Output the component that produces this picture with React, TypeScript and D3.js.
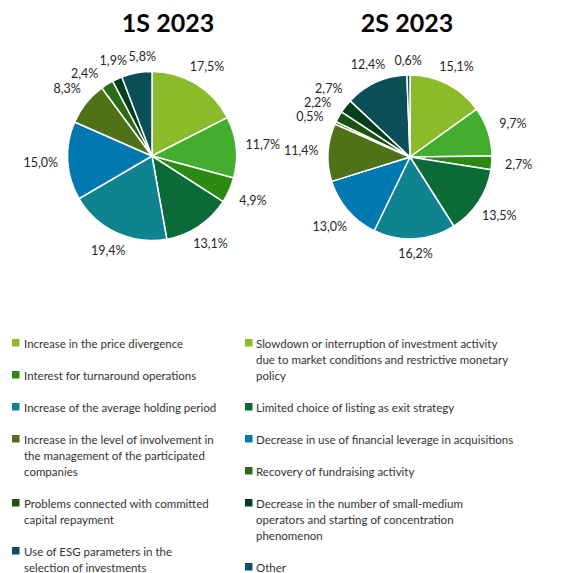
import React from 'react';
import * as d3 from 'd3';

const categories: string[] = [
  'Increase in the price divergence',
  'Slowdown or interruption of investment activity\ndue to market conditions and restrictive monetary\npolicy',
  'Interest for turnaround operations',
  'Limited choice of listing as exit strategy',
  'Increase of the average holding period',
  'Decrease in use of financial leverage in acquisitions',
  'Increase in the level of involvement in\nthe management of the participated\ncompanies',
  'Recovery of fundraising activity',
  'Problems connected with committed\ncapital repayment',
  'Decrease in the number of small-medium\noperators and starting of concentration\nphenomenon',
  'Use of ESG parameters in the\nselection of investments',
  'Other',
];
const values1S: number[] = [17.5, 11.7, 4.9, 13.1, 19.4, 15.0, 8.3, 2.4, 0, 1.9, 5.8, 0];
const values2S: number[] = [15.1, 9.7, 2.7, 13.5, 16.2, 13.0, 11.4, 0.5, 2.2, 2.7, 12.4, 0.6];
const titles: string[] = ['1S 2023', '2S 2023'];

const sliceColors = [
  '#8bbb2b', '#43ae2e', '#2a8a12', '#0b6b38', '#0f8490', '#0079b0',
  '#4f7118', '#2c6a1a', '#1c5210', '#003e1c', '#0a4e58', '#0b4f72',
];
const legendColors = [
  '#8bbb2b', '#8bbb2b', '#2a8a12', '#0b6b38', '#0f8490', '#0079b0',
  '#4f7118', '#2f6a1a', '#1c5210', '#003e1c', '#0a4e58', '#0b4f72',
];

const FONT = 'Lato, "Open Sans", sans-serif';

type Slice = { i: number; v: number };

const fmt = (v: number) => v.toFixed(1).replace('.', ',') + '%';
const estW = (s: string) => {
  let w = 0;
  for (const ch of s) w += ch === ',' ? 3 : ch === '%' ? 10 : 7.2;
  return w;
};

function Pie({ values, cx, cy, r, title, titleX }: { values: number[]; cx: number; cy: number; r: number; title: string; titleX: number }) {
  const data: Slice[] = values.map((v, i) => ({ i, v })).filter((d) => d.v > 0);
  const arcs = d3.pie<Slice>().sort(null).value((d) => d.v)(data);
  const arcGen = d3.arc<d3.PieArcDatum<Slice>>().innerRadius(0).outerRadius(r);

  const labels = arcs.map((a) => ({
    text: fmt(a.data.v),
    ang: (a.startAngle + a.endAngle) / 2,
    w: estW(fmt(a.data.v)),
    i: a.data.i,
  }));
  const pos = (ang: number) => {
    const s = Math.sin(ang);
    const c = Math.cos(ang);
    const rl = r + 14 + Math.abs(s) * 13;
    return [rl * s, -rl * c];
  };
  const H = 13.5;
  for (let it = 0; it < 600; it++) {
    let moved = false;
    for (let k = 0; k < labels.length - 1; k++) {
      const A = labels[k];
      const B = labels[k + 1];
      const [ax, ay] = pos(A.ang);
      const [bx, by] = pos(B.ang);
      if (Math.abs(ax - bx) < (A.w + B.w) / 2 + 1 && Math.abs(ay - by) < H) {
        A.ang -= 0.004;
        B.ang += 0.004;
        moved = true;
      }
    }
    if (!moved) break;
  }

  return (
    <g>
      <text x={titleX} y={32} textAnchor="middle" fontFamily={FONT} fontWeight={700} fontSize={25} fill="#000">
        {title}
      </text>
      <g transform={`translate(${cx},${cy})`}>
        {arcs.map((a) => (
          <path key={a.data.i} d={arcGen(a) || ''} fill={sliceColors[a.data.i]} stroke="#fff" strokeWidth={1.5} strokeLinejoin="round" />
        ))}
        {labels.map((l) => {
          const [x, y] = pos(l.ang);
          return (
            <text key={'l' + l.i} x={x} y={y} textAnchor="middle" dominantBaseline="central" fontFamily={FONT} fontSize={12.5} fill="#262626">
              {l.text}
            </text>
          );
        })}
      </g>
    </g>
  );
}

function Legend() {
  const cols = [
    { sx: 12, tx: 24, idx: [0, 2, 4, 6, 8, 10] },
    { sx: 245, tx: 256, idx: [1, 3, 5, 7, 9, 11] },
  ];
  const lineH = 16;
  const startY = 343;
  const gap = 32;
  const out: React.ReactNode[] = [];
  cols.forEach((col, ci) => {
    let y = startY;
    col.idx.forEach((k) => {
      const lines = categories[k].split('\n');
      out.push(
        <rect key={`s${ci}-${k}`} x={col.sx} y={y - 4} width={7.5} height={7.5} fill={legendColors[k]} />
      );
      out.push(
        <text key={`t${ci}-${k}`} fontFamily={FONT} fontSize={11.5} fill="#333" dominantBaseline="central">
          {lines.map((ln, li) => (
            <tspan key={li} x={col.tx} y={y + li * lineH}>
              {ln}
            </tspan>
          ))}
        </text>
      );
      y = y + (lines.length - 1) * lineH + gap;
    });
  });
  return <g>{out}</g>;
}

export default function App() {
  return (
    <svg width={565} height={573} style={{ position: 'absolute', left: 0, top: 0, background: '#fff' }}>
      <rect width={565} height={573} fill="#fff" />
      <Pie values={values1S} cx={152} cy={156} r={84.5} title={titles[0]} titleX={168} />
      <Pie values={values2S} cx={410} cy={157} r={82} title={titles[1]} titleX={407} />
      <Legend />
    </svg>
  );
}
